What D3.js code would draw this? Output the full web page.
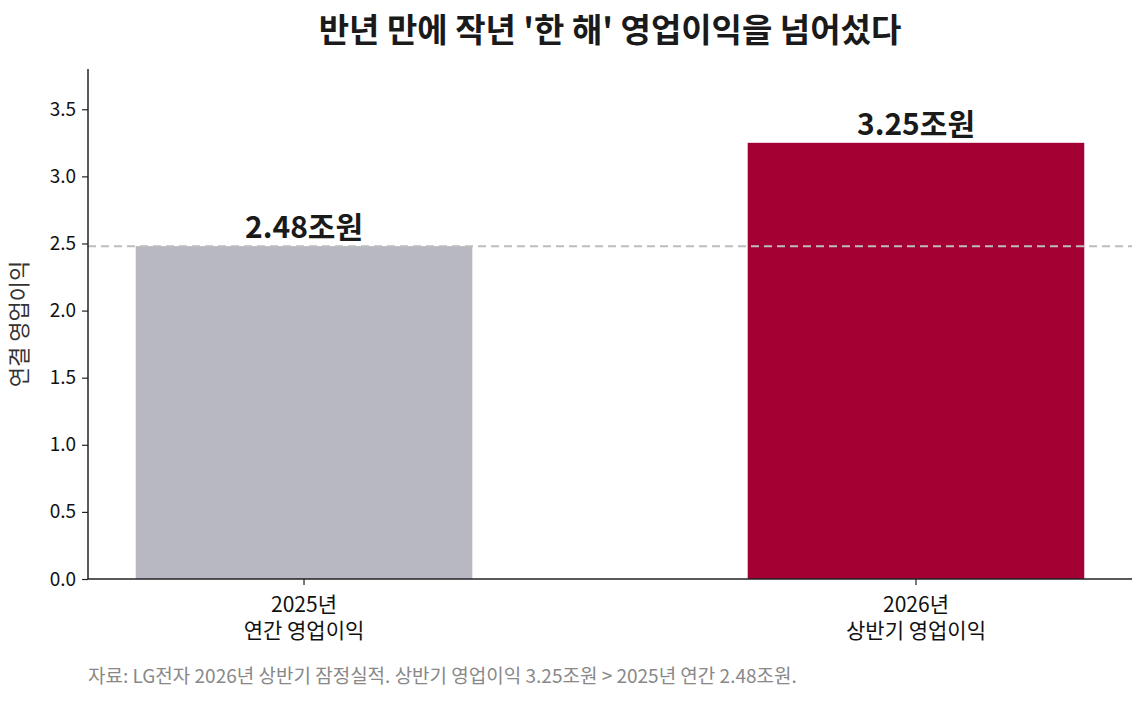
<!DOCTYPE html>
<html>
<head>
<meta charset="utf-8">
<script src="https://cdn.jsdelivr.net/npm/d3@7"></script>
<style>
  body { margin: 0; background: #fff; }
  svg text { font-family: "Noto Sans CJK KR", "Noto Sans", sans-serif; }
</style>
</head>
<body>
<div id="chart"></div>
<script>
const categories = ["2025년\n연간 영업이익", "2026년\n상반기 영업이익"];
const values = [2.48, 3.25];
const valueLabels = ["2.48조원", "3.25조원"];
const barColors = ["#b8b8c2", "#a50034"];
const yTicks = [0, 0.5, 1.0, 1.5, 2.0, 2.5, 3.0, 3.5];
const refValue = 2.48;

const width = 1145, height = 702;
const margin = { top: 69, right: 13, bottom: 123, left: 88 };

const svg = d3.select("#chart").append("svg")
    .attr("width", width)
    .attr("height", height);

const x = d3.scaleBand()
    .domain(categories)
    .range([margin.left, width - margin.right])
    .paddingInner(0.45)
    .paddingOuter(0.078);

const y = d3.scaleLinear()
    .domain([0, 3.8])
    .range([height - margin.bottom, margin.top]);

// bars
svg.append("g")
    .selectAll("rect")
    .data(values)
    .join("rect")
    .attr("x", (d, i) => x(categories[i]))
    .attr("y", d => y(d))
    .attr("width", x.bandwidth())
    .attr("height", d => y(0) - y(d))
    .attr("fill", (d, i) => barColors[i]);

// reference line (2025 annual)
svg.append("line")
    .attr("x1", margin.left)
    .attr("x2", width - margin.right)
    .attr("y1", y(refValue))
    .attr("y2", y(refValue))
    .attr("stroke", "#bdbdbd")
    .attr("stroke-width", 2)
    .attr("stroke-dasharray", "8,5");

// value labels
svg.append("g")
    .selectAll("text")
    .data(values)
    .join("text")
    .attr("x", (d, i) => x(categories[i]) + x.bandwidth() / 2)
    .attr("y", d => y(d) - 8)
    .attr("text-anchor", "middle")
    .attr("font-size", 30)
    .attr("font-weight", "bold")
    .attr("fill", "#1a1a1a")
    .text((d, i) => valueLabels[i]);

// y axis
const yAxis = svg.append("g")
    .attr("transform", "translate(" + margin.left + ",0)")
    .call(d3.axisLeft(y).tickValues(yTicks).tickFormat(d3.format(".1f")).tickSize(6).tickPadding(6));
yAxis.select(".domain").attr("d", "M0," + y(0) + "V" + margin.top).attr("stroke", "#222").attr("stroke-width", 1.5);
yAxis.selectAll(".tick line").attr("stroke", "#222").attr("stroke-width", 1.2);
yAxis.selectAll(".tick text").attr("font-size", 19).attr("fill", "#111")
    .style("font-family", "'Noto Sans CJK KR', sans-serif");

// x axis
const xAxis = svg.append("g")
    .attr("transform", "translate(0," + y(0) + ")")
    .call(d3.axisBottom(x).tickSize(6));
xAxis.selectAll(".tick text").remove();
xAxis.select(".domain").attr("d", "M" + margin.left + ",0H" + (width - margin.right)).attr("stroke", "#222").attr("stroke-width", 1.5);
xAxis.selectAll(".tick line").attr("stroke", "#222").attr("stroke-width", 1.2);
xAxis.selectAll(".tick").each(function (d) {
    const g = d3.select(this);
    d.split("\n").forEach((ln, i) => {
        g.append("text")
            .attr("x", 0)
            .attr("y", 33 + i * 26)
            .attr("text-anchor", "middle")
            .attr("font-size", 21)
            .attr("fill", "#111")
            .style("font-family", "'Noto Sans CJK KR', sans-serif")
            .text(ln);
    });
});

// y axis label
svg.append("text")
    .attr("transform", "translate(27," + ((y(0) + margin.top) / 2) + ") rotate(-90)")
    .attr("text-anchor", "middle")
    .attr("font-size", 22)
    .attr("fill", "#333")
    .text("연결 영업이익");

// title
svg.append("text")
    .attr("x", (margin.left + width - margin.right) / 2)
    .attr("y", 42)
    .attr("text-anchor", "middle")
    .attr("font-size", 33)
    .attr("font-weight", "bold")
    .attr("fill", "#1a1a1a")
    .text("반년 만에 작년 '한 해' 영업이익을 넘어섰다");

// source note
svg.append("text")
    .attr("x", margin.left)
    .attr("y", 683)
    .attr("font-size", 19)
    .attr("fill", "#888")
    .text("자료: LG전자 2026년 상반기 잠정실적. 상반기 영업이익 3.25조원 > 2025년 연간 2.48조원.");
</script>
</body>
</html>
